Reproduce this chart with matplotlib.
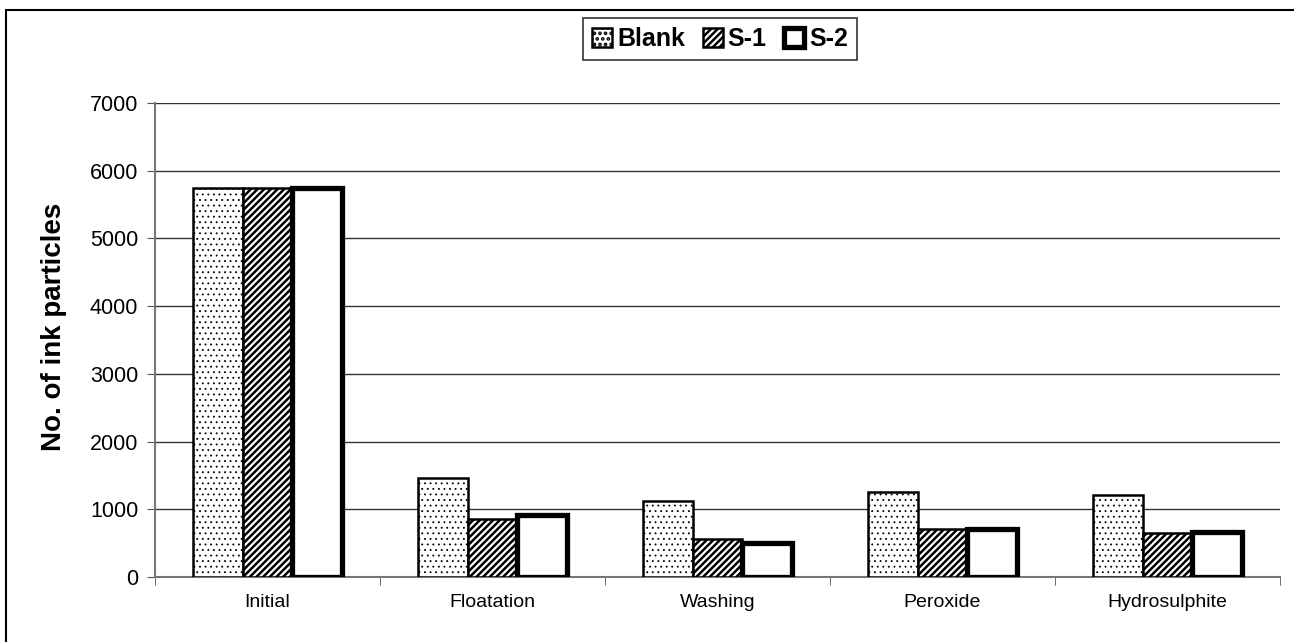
import numpy as np
import matplotlib
matplotlib.use('Agg')
import matplotlib.pyplot as plt
from matplotlib.patches import Rectangle

plt.rcParams['font.family'] = ['Liberation Sans', 'DejaVu Sans']

stages = ['Initial', 'Floatation', 'Washing', 'Peroxide', 'Hydrosulphite']
blank = [5750, 1460, 1120, 1255, 1210]
s1 = [5750, 855, 560, 710, 650]
s2 = [5750, 910, 500, 710, 665]

fig = plt.figure(figsize=(12.94, 6.42), dpi=100)
ax = fig.add_axes([155 / 1294, 1 - 577 / 642, 1125 / 1294, 474 / 642])

x = np.arange(len(stages))
w = 0.222
plt.rcParams['hatch.linewidth'] = 0.6
plt.rcParams['hatch.color'] = '#555555'
ax.bar(x - w, blank, w, color='white', edgecolor='black', hatch='...', linewidth=1.8, label='Blank', zorder=3)
plt.rcParams['hatch.linewidth'] = 1.8
plt.rcParams['hatch.color'] = 'black'
ax.bar(x, s1, w, color='white', edgecolor='black', hatch='/////', linewidth=1.8, label='S-1', zorder=3)
ax.bar(x + w, s2, w, color='white', edgecolor='black', linewidth=3.8, label='S-2', zorder=3)

ax.set_xlim(-0.5, len(stages) - 0.5)
ax.set_ylim(0, 7000)
ax.set_yticks(range(0, 7001, 1000))
ax.set_xticks(x)
ax.set_xticklabels(stages, fontsize=14)
ax.set_xticks(np.arange(-0.5, len(stages), 1), minor=True)
ax.tick_params(axis='x', which='major', length=0, pad=12)
ax.tick_params(axis='x', which='minor', length=6, color='#555555', direction='out')
ax.tick_params(axis='y', length=6, color='#555555', labelsize=15.5, pad=6)
ax.yaxis.grid(True, color='#333333', linewidth=1)
ax.set_axisbelow(True)
for side in ['top', 'right']:
    ax.spines[side].set_visible(False)
ax.spines['left'].set_color('#777777')
ax.spines['bottom'].set_color('#777777')
ax.spines['left'].set_linewidth(1.5)
ax.spines['bottom'].set_linewidth(1.5)
ax.set_ylabel('No. of ink particles', fontsize=20, fontweight='bold')
ax.yaxis.set_label_coords(-0.078, 0.527)

leg = fig.legend(loc='center', bbox_to_anchor=(720 / 1294, 1 - 39 / 642), ncol=3,
                 prop={'weight': 'bold', 'size': 18}, frameon=True, fancybox=False,
                 edgecolor='black', handlelength=0.8, handleheight=0.8,
                 handletextpad=0.2, columnspacing=0.7, borderpad=0.35)
leg.get_frame().set_linewidth(1.2)

fig.patches.append(Rectangle((6 / 1294, -0.1), 1.2, 1.1 - 10 / 642, transform=fig.transFigure,
                             fill=False, edgecolor='black', linewidth=1.5))

fig.savefig('out.png', dpi=100)
